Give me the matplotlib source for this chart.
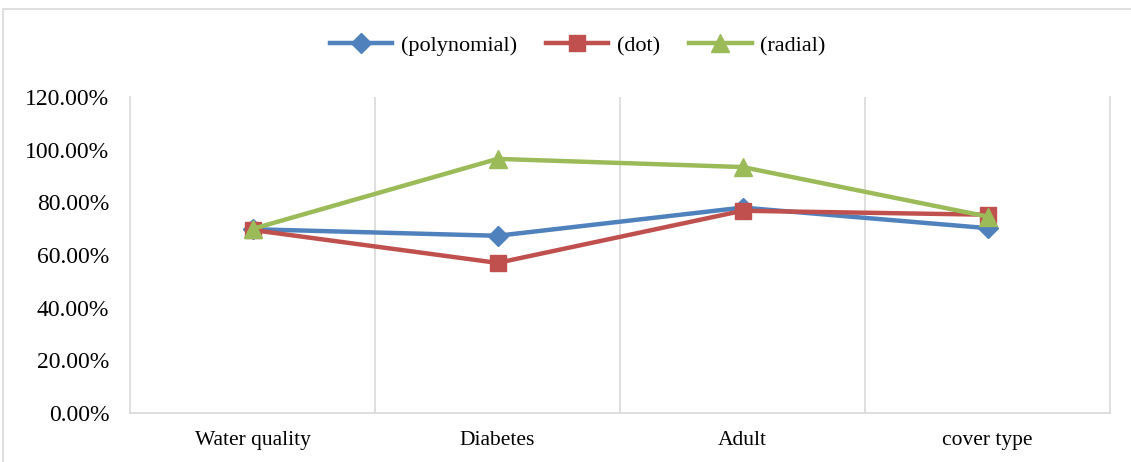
import numpy as np
import matplotlib.pyplot as plt
from matplotlib.patches import Rectangle

# data (percent)
categories = ['Water quality', 'Diabetes', 'Adult', 'cover type']
polynomial = [69.8, 67.3, 78.0, 70.2]
dot = [69.5, 57.0, 76.8, 75.3]
radial = [69.9, 96.5, 93.4, 74.6]
yticks = [0, 20, 40, 60, 80, 100, 120]

plt.rcParams['font.family'] = ['Liberation Serif', 'DejaVu Serif']

fig = plt.figure(figsize=(11.31, 4.62), dpi=100)
ax = fig.add_axes([130/1131, 49/462, 980/1131, 316/462])

# outer chart frame
fig.patches.append(Rectangle((3/1131, -0.05), 1.1, (462 - 9)/462 + 0.05,
                             transform=fig.transFigure, fill=False,
                             edgecolor='#d9d9d9', linewidth=1.2))

x = np.arange(len(categories))
ax.plot(x, polynomial, color='#4F81BD', lw=3.2, marker='D', ms=10, label='(polynomial)', zorder=3)
ax.plot(x, dot, color='#C0504D', lw=3.2, marker='s', ms=12, label='(dot)', zorder=4)
ax.plot(x, radial, color='#9BBB59', lw=3.2, marker='^', ms=13, label='(radial)', zorder=5)

ax.set_xlim(-0.5, len(categories) - 0.5)
ax.set_ylim(0, 120)
ax.set_yticks(yticks)
ax.set_yticklabels(['%.2f%%' % v for v in yticks], fontsize=17)
ax.set_xticks(x)
ax.set_xticklabels(categories, fontsize=15.5)
ax.tick_params(length=0)
ax.tick_params(axis='x', pad=13)
ax.tick_params(axis='y', pad=15)

for b in np.arange(0.5, len(categories) - 0.5):
    ax.axvline(b, color='#d9d9d9', lw=1.2, zorder=1)
for s in ['top']:
    ax.spines[s].set_visible(False)
for s in ['left', 'bottom', 'right']:
    ax.spines[s].set_color('#d9d9d9')
    ax.spines[s].set_linewidth(1.2)

fig.legend(loc='center', bbox_to_anchor=(578/1131, 1 - 46/462), ncol=3, frameon=False,
           fontsize=16, handlelength=2.8, columnspacing=1.3, handletextpad=0.4)

fig.savefig('out.png', dpi=100)
